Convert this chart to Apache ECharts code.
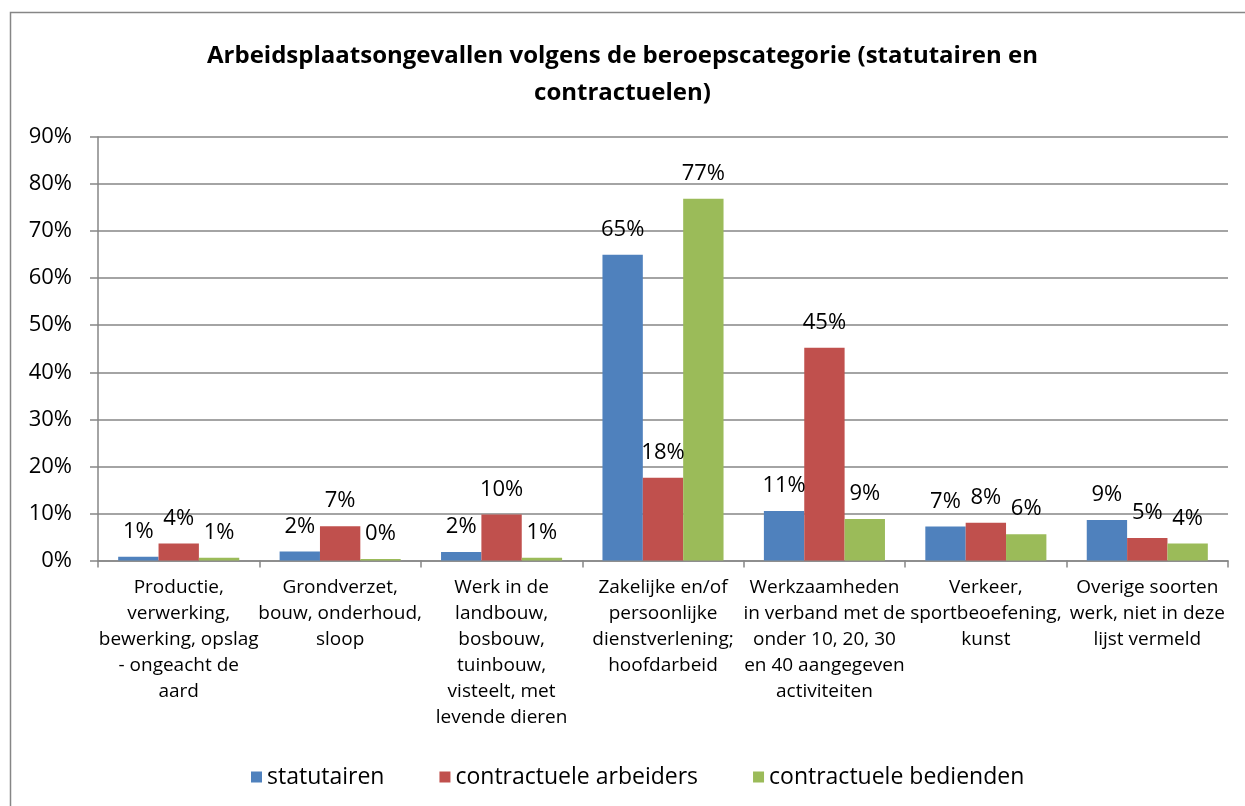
<!DOCTYPE html>
<html>
<head>
<meta charset="utf-8">
<script src="https://cdn.jsdelivr.net/npm/echarts@6/dist/echarts.min.js"></script>
<style>
html,body{margin:0;padding:0;background:#fff;}
#chart{width:1245px;height:806px;}
</style>
</head>
<body>
<div id="chart"></div>
<script>
const titleText = 'Arbeidsplaatsongevallen volgens de beroepscategorie (statutairen en\ncontractuelen)';
const categories = [
  'Productie,\nverwerking,\nbewerking, opslag\n- ongeacht de\naard',
  'Grondverzet,\nbouw, onderhoud,\nsloop',
  'Werk in de\nlandbouw,\nbosbouw,\ntuinbouw,\nvisteelt, met\nlevende dieren',
  'Zakelijke en/of\npersoonlijke\ndienstverlening;\nhoofdarbeid',
  'Werkzaamheden\nin verband met de\nonder 10, 20, 30\nen 40 aangegeven\nactiviteiten',
  'Verkeer,\nsportbeoefening,\nkunst',
  'Overige soorten\nwerk, niet in deze\nlijst vermeld'
];
const seriesNames = ['statutairen', 'contractuele arbeiders', 'contractuele bedienden'];
const statutairen = [0.8, 1.9, 1.8, 65.0, 10.5, 7.2, 8.6];
const contractueleArbeiders = [3.6, 7.3, 9.8, 17.6, 45.2, 8.0, 4.8];
const contractueleBedienden = [0.6, 0.3, 0.6, 76.9, 8.8, 5.6, 3.6];
const colors = ['#4F81BD', '#C0504D', '#9BBB59'];
const yTicks = [0, 10, 20, 30, 40, 50, 60, 70, 80, 90];

const FONT = '"Open Sans", "Noto Sans", sans-serif';
const chart = echarts.init(document.getElementById('chart'), null, {renderer: 'canvas'});

function mkSeries(name, data, color) {
  return {
    name: name,
    type: 'bar',
    data: data,
    barGap: '0%',
    barCategoryGap: '25%',
    itemStyle: {color: color},
    label: {
      show: true,
      position: 'top',
      distance: 14,
      color: '#000',
      fontFamily: FONT,
      fontSize: 22,
      formatter: p => Math.round(p.value) + '%'
    }
  };
}

chart.setOption({
  animation: false,
  color: colors,
  textStyle: {fontFamily: FONT, color: '#000'},
  graphic: [{
    type: 'rect',
    shape: {x: 10.5, y: 12.5, width: 1400, height: 1000},
    style: {fill: 'none', stroke: '#868686', lineWidth: 1.5},
    silent: true
  }],
  title: {
    text: titleText,
    left: 'center',
    top: 33,
    textStyle: {
      fontFamily: FONT,
      fontSize: 24,
      fontWeight: 'bold',
      color: '#000',
      lineHeight: 37
    }
  },
  legend: {
    data: seriesNames,
    top: 760,
    left: 246,
    icon: 'rect',
    itemWidth: 11,
    itemHeight: 11,
    itemGap: 55,
    textStyle: {fontFamily: FONT, fontSize: 23, lineHeight: 24, color: '#000'}
  },
  grid: {
    left: 98,
    right: 17,
    top: 137,
    bottom: 245.5,
    containLabel: false
  },
  xAxis: {
    type: 'category',
    data: categories,
    axisLine: {show: true, lineStyle: {color: '#868686', width: 1.5}},
    axisTick: {show: true, length: 7, inside: false, lineStyle: {color: '#868686', width: 1.5}},
    axisLabel: {
      interval: 0,
      margin: 14,
      fontFamily: FONT,
      fontSize: 19,
      lineHeight: 26,
      color: '#000',
      align: 'center'
    }
  },
  yAxis: {
    type: 'value',
    min: yTicks[0],
    max: yTicks[yTicks.length - 1],
    interval: 10,
    axisLine: {show: true, lineStyle: {color: '#868686', width: 1.5}},
    axisTick: {show: true, length: 8, lineStyle: {color: '#868686', width: 1.5}},
    splitLine: {show: true, lineStyle: {color: '#868686', width: 1.5}},
    axisLabel: {
      margin: 26,
      fontFamily: FONT,
      fontSize: 22,
      color: '#000',
      formatter: v => v + '%'
    }
  },
  series: [
    mkSeries(seriesNames[0], statutairen, colors[0]),
    mkSeries(seriesNames[1], contractueleArbeiders, colors[1]),
    mkSeries(seriesNames[2], contractueleBedienden, colors[2])
  ]
});
</script>
</body>
</html>
